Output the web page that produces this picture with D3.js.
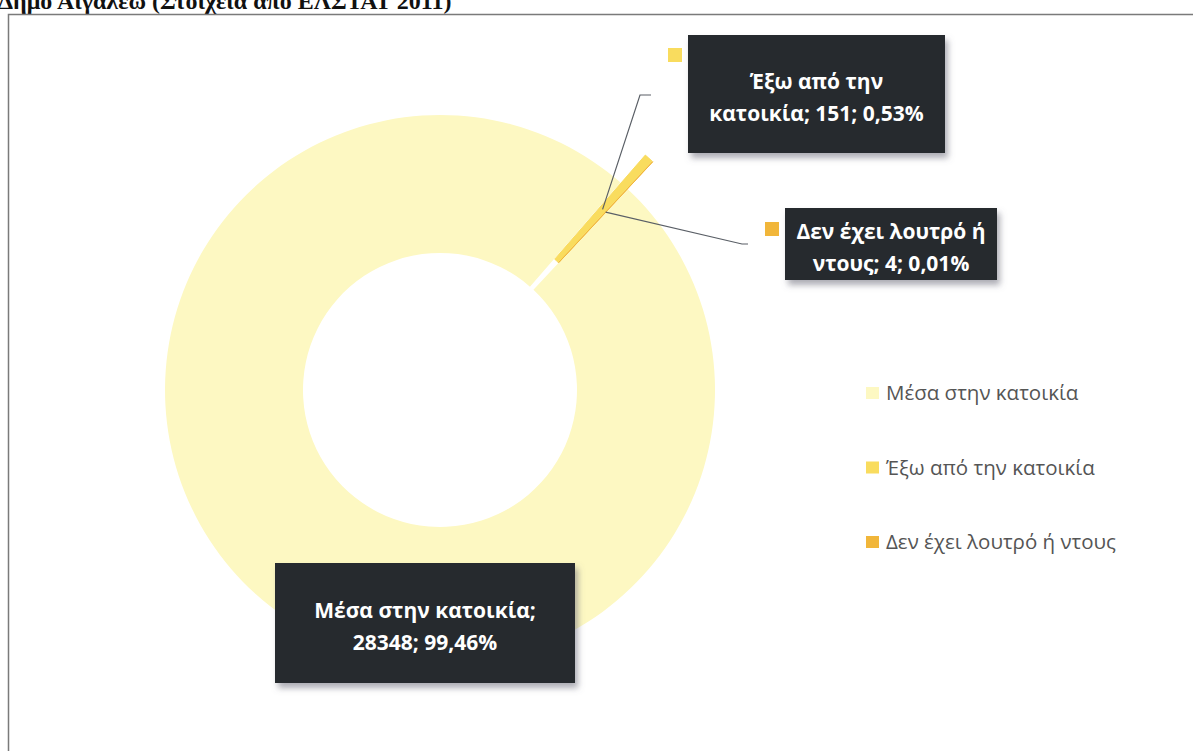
<!DOCTYPE html>
<html>
<head>
<meta charset="utf-8">
<script src="https://cdn.jsdelivr.net/npm/d3@7"></script>
<style>
  html, body { margin: 0; padding: 0; background: #ffffff; overflow: hidden; }
  svg { display: block; }
</style>
</head>
<body>
<svg id="chart" width="1193" height="751"></svg>
<script>
// Bathroom / shower availability in dwellings, Aigaleo (ELSTAT 2011)
const categories = ["Μέσα στην κατοικία", "Έξω από την κατοικία", "Δεν έχει λουτρό ή ντους"];
const values = [28348, 151, 4];
const percentLabels = ["99,46%", "0,53%", "0,01%"];
const colors = ["#fdf8c2", "#f9dc5e", "#f1b63a"];
const exploded = [false, true, true];

const svg = d3.select("#chart");

// Heading above the framed chart (runs off the top of the page)
svg.append("text")
  .attr("x", -2).attr("y", 9)
  .attr("font-family", "Liberation Serif, serif")
  .attr("font-weight", "bold")
  .attr("font-size", 24)
  .attr("fill", "#111")
  .text("Δήμο Αιγάλεω (Στοιχεία από ΕΛΣΤΑΤ 2011)");

// Chart frame
svg.append("rect")
  .attr("x", 8.5).attr("y", 14.5)
  .attr("width", 1200).attr("height", 760)
  .attr("fill", "none")
  .attr("stroke", "#7a7a7a")
  .attr("stroke-width", 1.5);

const defs = svg.append("defs");
const shadow = defs.append("filter").attr("id", "boxShadow")
  .attr("x", "-10%").attr("y", "-10%").attr("width", "130%").attr("height", "140%");
shadow.append("feDropShadow")
  .attr("dx", 3).attr("dy", 5).attr("stdDeviation", 3)
  .attr("flood-color", "#6a6a78").attr("flood-opacity", 0.55);

// Donut geometry
const cx = 440, cy = 390, outerR = 275, innerR = 137, explodeOffset = 37;
const firstSliceAngle = 43 * Math.PI / 180;

const pie = d3.pie().sort(null).value(d => d)
  .startAngle(firstSliceAngle)
  .endAngle(firstSliceAngle + 2 * Math.PI);
const arcs = pie(values);
const arc = d3.arc().innerRadius(innerR).outerRadius(outerR);

function offsetOf(a, i) {
  if (!exploded[i]) return [0, 0];
  const mid = (a.startAngle + a.endAngle) / 2;
  return [Math.sin(mid) * explodeOffset, -Math.cos(mid) * explodeOffset];
}

const g = svg.append("g").attr("transform", `translate(${cx},${cy})`);
g.selectAll("path.slice")
  .data(arcs)
  .join("path")
  .attr("class", "slice")
  .attr("d", arc)
  .attr("fill", (d, i) => colors[i])
  .attr("stroke", (d, i) => i === 0 ? "none" : colors[i])
  .attr("stroke-width", 1)
  .attr("transform", (d, i) => { const o = offsetOf(d, i); return `translate(${o[0]},${o[1]})`; });

// Data labels: dark callout boxes with leader lines
const labelSpecs = [
  { lines: ["Μέσα στην κατοικία;", values[0] + "; " + percentLabels[0]],
    box: [275, 563, 300, 120], key: false, elbow: null },
  { lines: ["Έξω από την", "κατοικία; " + values[1] + "; " + percentLabels[1]],
    box: [688, 35, 257, 118], key: [668, 48], elbow: [[640, 95], [651, 95]] },
  { lines: ["Δεν έχει λουτρό ή", "ντους; " + values[2] + "; " + percentLabels[2]],
    box: [785, 208, 212, 72], key: [765, 222], elbow: [[742, 244], [748, 244]] }
];

labelSpecs.forEach((s, i) => {
  if (s.elbow) {
    const c = arc.centroid(arcs[i]);
    const o = offsetOf(arcs[i], i);
    const start = [cx + c[0] + o[0], cy + c[1] + o[1]];
    svg.append("path")
      .attr("d", d3.line()([start, ...s.elbow]))
      .attr("fill", "none")
      .attr("stroke", "#5a5f66")
      .attr("stroke-width", 1.2);
  }
  const [bx, by, bw, bh] = s.box;
  svg.append("rect")
    .attr("x", bx).attr("y", by).attr("width", bw).attr("height", bh)
    .attr("fill", "#27292d")
    .attr("filter", "url(#boxShadow)");
  if (s.key) {
    svg.append("rect")
      .attr("x", s.key[0]).attr("y", s.key[1])
      .attr("width", 14).attr("height", 14)
      .attr("fill", colors[i]);
  }
  const lh = 32;
  const y0 = by + bh / 2 - lh / 2 + 11;
  const t = svg.append("text")
    .attr("font-family", "Open Sans, sans-serif")
    .attr("font-weight", "bold")
    .attr("font-size", 21)
    .attr("fill", "#ffffff")
    .attr("text-anchor", "middle");
  s.lines.forEach((ln, k) => {
    t.append("tspan").attr("x", bx + bw / 2).attr("y", y0 + k * lh).text(ln);
  });
});

// Legend
const legend = svg.append("g").attr("transform", "translate(866,393)");
const item = legend.selectAll("g.item")
  .data(categories)
  .join("g")
  .attr("class", "item")
  .attr("transform", (d, i) => `translate(0,${i * 74.5})`);
item.append("rect")
  .attr("x", 0).attr("y", -6).attr("width", 13).attr("height", 12)
  .attr("fill", (d, i) => colors[i]);
item.append("text")
  .attr("x", 20).attr("y", 7)
  .attr("font-family", "Open Sans, sans-serif")
  .attr("font-size", 20.5)
  .attr("fill", "#555555")
  .text(d => d);
</script>
</body>
</html>
